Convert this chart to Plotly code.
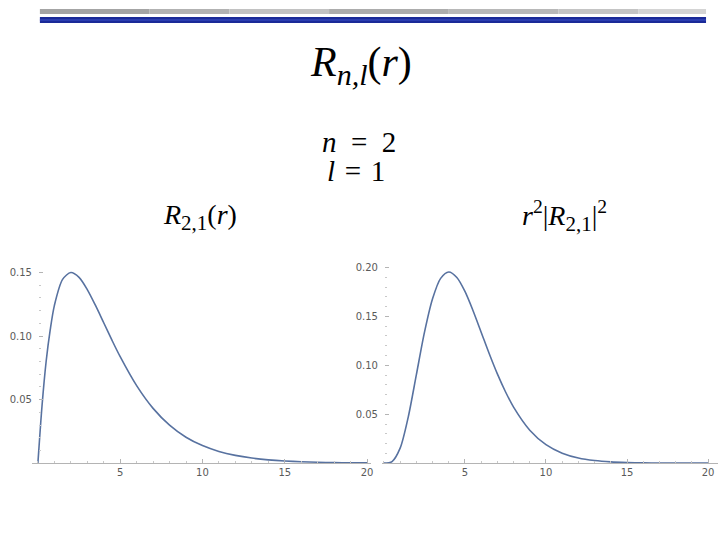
import plotly.graph_objects as go

# Values
r_left = [0, 0.25, 0.5, 0.75, 1, 1.5, 2, 2.5, 3, 3.5, 4, 4.5, 5, 6, 7, 8, 9, 10,
          11, 12, 13, 14, 15, 16, 17, 18, 19, 20]
R21 = [0.0, 0.045, 0.080, 0.105, 0.124, 0.1446, 0.150, 0.1462, 0.1366, 0.1241,
       0.1105, 0.0968, 0.0838, 0.0610, 0.0431, 0.0299, 0.0204, 0.0138,
       0.0092, 0.0061, 0.0040, 0.0026, 0.0017, 0.0011, 0.0007, 0.00045, 0.0003, 0.0002]

r_right = [0, 0.5, 1, 1.5, 2, 2.5, 3, 3.5, 4, 4.5, 5, 5.5, 6, 6.5, 7, 7.5, 8, 9, 10,
           11, 12, 13, 14, 15, 16, 17, 18, 19, 20]
P21 = [0.0, 0.0016, 0.0153, 0.0471, 0.0902, 0.1336, 0.168, 0.1889, 0.1954, 0.1898,
       0.1755, 0.1558, 0.1339, 0.1118, 0.0912, 0.0730, 0.0573, 0.0337, 0.0189,
       0.0102, 0.0053, 0.0027, 0.0013, 0.00065, 0.0003, 0.00014, 0.00007, 0.00003, 0.00001]

x_ticks = [5, 10, 15, 20]
y_ticks_left = [0.05, 0.10, 0.15]
y_ticks_right = [0.05, 0.10, 0.15, 0.20]

W, H = 720, 540
line_color = "#5872a0"
tick_font = dict(family="DejaVu Sans", size=10, color="#5a5a5a")

fig = go.Figure()
fig.add_trace(go.Scatter(x=r_left, y=R21, mode="lines", line=dict(color=line_color, width=1.6, shape="spline", smoothing=0.8),
                         xaxis="x", yaxis="y", showlegend=False, hoverinfo="skip"))
fig.add_trace(go.Scatter(x=r_right, y=P21, mode="lines", line=dict(color=line_color, width=1.6, shape="spline", smoothing=0.8),
                         xaxis="x2", yaxis="y2", showlegend=False, hoverinfo="skip"))

def xax(domain, rng):
    return dict(domain=domain, range=rng, showgrid=False, zeroline=False, showline=True,
                linecolor="#b4b4b4", linewidth=1, ticks="inside", ticklen=4, tickcolor="#b4b4b4",
                tickvals=x_ticks, tickfont=tick_font, ticklabeloverflow="allow",
                minor=dict(dtick=1, tick0=0, ticks="inside", ticklen=2, tickcolor="#c8c8c8", showgrid=False),
                fixedrange=True)

def yax(domain, rng, pos, vals):
    return dict(domain=domain, range=rng, anchor="free", position=pos, showgrid=False, zeroline=False,
                showline=False, ticks="inside", ticklen=4, tickcolor="#b4b4b4", tickvals=vals,
                tickformat=".2f", tickfont=tick_font, ticklabelstandoff=6,
                minor=dict(dtick=0.01, tick0=0, ticks="inside", ticklen=2, tickcolor="#c8c8c8", showgrid=False),
                fixedrange=True)

y_dom = [(H - 463) / H, (H - 262) / H]
# right panel: x=0 at 385 px, x=20 at 710 px
px_r = (710 - 385) / 20
fig.update_layout(
    width=W, height=H, margin=dict(l=0, r=0, t=0, b=0),
    paper_bgcolor="white", plot_bgcolor="rgba(0,0,0,0)",
    xaxis=dict(xax([32 / W, 372 / W], [-0.364, 20.24]), anchor="y"),
    yaxis=yax(y_dom, [0, 0.1579], 38 / W, y_ticks_left),
    xaxis2=dict(xax([383 / W, 1.0], [-2 / px_r, 20 + 10 / px_r]), anchor="y2"),
    yaxis2=yax(y_dom, [0, 0.2051], 385 / W, y_ticks_right),
)

# Decorative header bars
shapes = []
gray_segments = [(40, 150, "#a4a4a4"), (150, 230, "#b2b2b2"), (230, 330, "#c2c2c2"),
                 (330, 450, "#acacac"), (450, 560, "#b8b8b8"), (560, 640, "#c4c4c4"),
                 (640, 708, "#d4d4d4")]
for x0, x1, c in gray_segments:
    shapes.append(dict(type="rect", xref="paper", yref="paper", x0=x0 / W, x1=x1 / W,
                       y0=(H - 13) / H, y1=(H - 8) / H, fillcolor=c, line=dict(width=0), layer="below"))
shapes.append(dict(type="rect", xref="paper", yref="paper", x0=40 / W, x1=708 / W,
                   y0=(H - 22) / H, y1=(H - 16) / H, fillcolor="#1a2a98", line=dict(width=0), layer="below"))
shapes.append(dict(type="rect", xref="paper", yref="paper", x0=40 / W, x1=708 / W,
                   y0=(H - 19.5) / H, y1=(H - 18.5) / H, fillcolor="#3a50c8", line=dict(width=0), layer="below"))
fig.update_layout(shapes=shapes)

serif = "Liberation Serif, Times New Roman, Times, serif"
def ann(text, x, y, size):
    fig.add_annotation(text=text, x=x / W, y=(H - y) / H, xref="paper", yref="paper",
                       xanchor="center", yanchor="middle", showarrow=False,
                       font=dict(family=serif, size=size, color="black"))

sub = '<sub><span style="font-size:21px">{}</span></sub>'
ann("<i>R</i>" + '<sub><span style="font-size:30px"><i>n,l</i></span></sub>' + "(<i>r</i>)", 362, 64, 42)
ann("<i>n</i>&#8194;=&#8194;2", 360, 141, 29)
ann("<i>l</i>&#8196;=&#8196;1", 357, 170, 29)
ann("<i>R</i>" + sub.format("2,1") + "(<i>r</i>)", 201, 216, 28)
ann("<i>r</i><sup>2</sup>|<i>R</i>" + sub.format("2,1") + "|<sup>2</sup>", 566, 215, 28)

fig.write_html("out.html", config={"displayModeBar": False, "staticPlot": True},
               post_script="document.body.style.margin='0';document.body.style.overflow='hidden';")
